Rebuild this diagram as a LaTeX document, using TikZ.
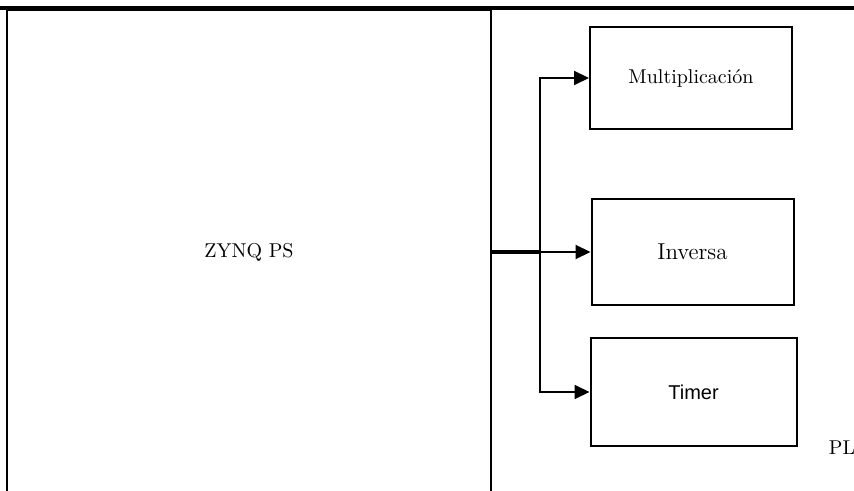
\documentclass[tikz,border=0pt]{standalone}
\usepackage{fontspec}
\newfontfamily\timerfont{Liberation Sans}
\usetikzlibrary{arrows.meta,positioning}

\begin{document}
\begin{tikzpicture}[
    x=0.5pt, y=-0.5pt,
    bloque/.style={
        rectangle,
        draw,
        line width=1pt,
        minimum width=101pt,
        minimum height=51pt,
        align=center
    },
    flecha/.style={-{Triangle[length=7.5pt,width=7pt]}, line width=1pt}
]
\useasboundingbox (0,0) rectangle (854,491);
\clip (0,0) rectangle (854,491);

% Region PS
\node[draw, line width=1pt, minimum width=242pt, minimum height=242pt] (ps) at (249,252) {ZYNQ PS};
\draw[line width=1.7pt] (0,8) -- (854,8);

% Bloques en la PL
\node[bloque] (mult) at (691,78) {Multiplicaci\'on};
\node[bloque, minimum height=53pt, font=\fontsize{11.5}{14}\selectfont] (inv) at (692.5,252) {Inversa};
\node[bloque, minimum width=103pt, minimum height=54pt] (timer) at (693.5,392) {\timerfont Timer};
\node (pl) at (842,448) {PL};

% Conexiones
\coordinate (bus) at (540,252);
\draw[line width=1.6pt] (ps.east) -- (bus);
\draw[flecha] (bus) -- (inv.west);
\draw[flecha] (bus) |- (mult.west);
\draw[flecha] (bus) |- (timer.west);

\end{tikzpicture}
\end{document}
